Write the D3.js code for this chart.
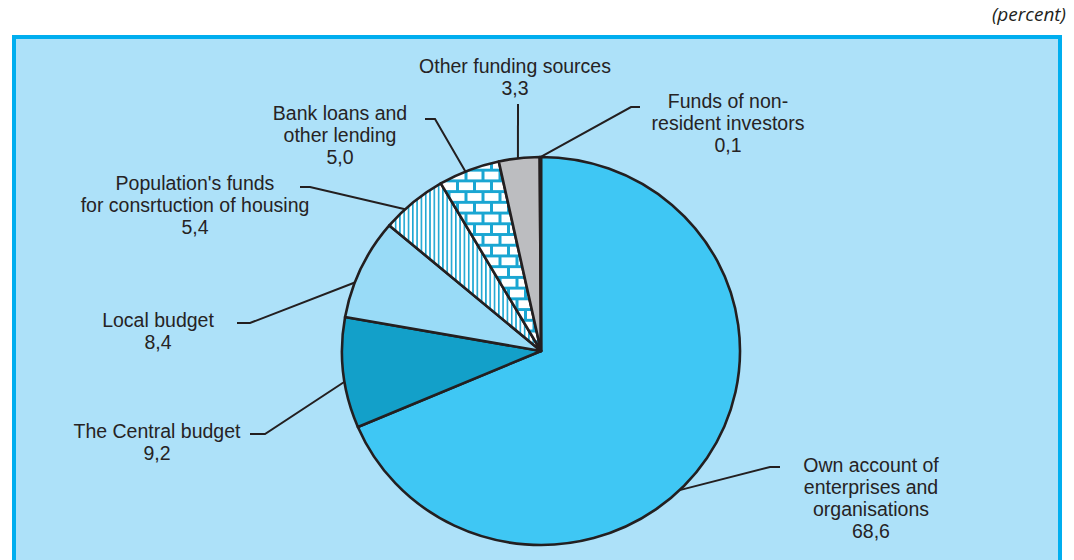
<!DOCTYPE html>
<html>
<head>
<meta charset="utf-8">
<title>Sources of financing</title>
<script src="https://cdn.jsdelivr.net/npm/d3@7"></script>
<style>
body { margin: 0; background: #fff; }
.label { font-family: "Liberation Sans", Arial, sans-serif; font-size: 19.5px; fill: #262324; text-anchor: middle; }
.unit { font-family: "Open Sans", "Liberation Sans", sans-serif; font-style: italic; font-size: 19px; fill: #231f20; text-anchor: end; }
.leader { fill: none; stroke: #231f20; stroke-width: 2; }
</style>
</head>
<body>
<script>
// data (percent)
var sources = ["Own account of enterprises and organisations", "The Central budget", "Local budget",
    "Population's funds for consrtuction of housing", "Bank loans and other lending",
    "Other funding sources", "Funds of non-resident investors"];
var shares = [68.6, 9.2, 8.4, 5.4, 5.0, 3.3, 0.1];
var shareLabels = ["68,6", "9,2", "8,4", "5,4", "5,0", "3,3", "0,1"];
var labelLines = [
    ["Own account of", "enterprises and", "organisations"],
    ["The Central budget"],
    ["Local budget"],
    ["Population's funds", "for consrtuction of housing"],
    ["Bank loans and", "other lending"],
    ["Other funding sources"],
    ["Funds of non-", "resident investors"]
];

var w = 1074, h = 560;
var cx = 541, cy = 351, rx = 199, ry = 194;
var lineH = 22;

var fills = ["#3fc7f4", "#13a0c9", "#99dbf7", "url(#vlines)", "url(#bricks)", "#bcbdc0", "#1b75bb"];

// label layout: text centre / first baseline, leader elbow, where on the slice the leader hits
var layout = [
    { x: 871, y: 472, elbow: [[780, 467], [770, 467]], t: 0.55 },
    { x: 157, y: 438, elbow: [[250, 434], [265, 434]], t: 0.42 },
    { x: 158, y: 327, elbow: [[237, 323], [250, 323]], t: 0.35 },
    { x: 195, y: 190, elbow: [[300, 187], [310, 187]], t: 0.34 },
    { x: 340, y: 120, elbow: [[425, 119], [435, 119]], t: 0.44 },
    { x: 515, y: 73, elbow: [[518, 104]], t: 0.47 },
    { x: 728, y: 108, elbow: [[640, 107], [631, 107]], t: 0.5 }
];

var svg = d3.select("body").append("svg")
    .attr("width", w)
    .attr("height", h);

var defs = svg.append("defs");

// vertical hatching
var vl = defs.append("pattern")
    .attr("id", "vlines")
    .attr("patternUnits", "userSpaceOnUse")
    .attr("width", 4.3).attr("height", 10);
vl.append("rect").attr("width", 4.3).attr("height", 10).attr("fill", "#fff");
vl.append("rect").attr("x", 0).attr("width", 1.6).attr("height", 10).attr("fill", "#1aa6d2");

// bricks
var bw = 17, bh = 11, m = 3;
var br = defs.append("pattern")
    .attr("id", "bricks")
    .attr("patternUnits", "userSpaceOnUse")
    .attr("width", bw).attr("height", bh * 2);
br.append("rect").attr("width", bw).attr("height", bh * 2).attr("fill", "#1aa6d2");
br.append("rect").attr("x", m).attr("y", m).attr("width", bw - m).attr("height", bh - m).attr("fill", "#fff");
br.append("rect").attr("x", bw / 2 + m).attr("y", bh + m).attr("width", bw - m).attr("height", bh - m).attr("fill", "#fff");
br.append("rect").attr("x", -bw / 2 + m).attr("y", bh + m).attr("width", bw - m).attr("height", bh - m).attr("fill", "#fff");

// frame
svg.append("rect")
    .attr("x", 14).attr("y", 37)
    .attr("width", 1046).attr("height", 560)
    .attr("fill", "#ade1f9")
    .attr("stroke", "#00aeef")
    .attr("stroke-width", 4);

svg.append("text")
    .attr("class", "unit")
    .attr("x", 1066).attr("y", 21)
    .text("(percent)");

// pie
var pie = d3.pie().sort(null).value(function(d) { return d; });
var arcs = pie(shares);
var arc = d3.arc().innerRadius(0).outerRadius(rx);

var g = svg.append("g")
    .attr("transform", "translate(" + cx + "," + cy + ") scale(1," + (ry / rx) + ")");

g.selectAll("path")
    .data(arcs)
    .enter()
    .append("path")
    .attr("d", arc)
    .attr("fill", function(d, i) { return fills[i]; })
    .attr("stroke", "#231f20")
    .attr("stroke-width", 2.6)
    .attr("stroke-linejoin", "round")
    .attr("vector-effect", "non-scaling-stroke");

// leaders
function edgePoint(d, t) {
    var a = d.startAngle + t * (d.endAngle - d.startAngle);
    return [cx + rx * Math.sin(a), cy - ry * Math.cos(a)];
}

var line = d3.line();

arcs.forEach(function(d, i) {
    var L = layout[i];
    var pts = L.elbow.concat([edgePoint(d, L.t)]);
    svg.append("path")
        .attr("class", "leader")
        .attr("d", line(pts));

    var txt = svg.append("text")
        .attr("class", "label")
        .attr("x", L.x).attr("y", L.y);
    labelLines[i].concat([shareLabels[i]]).forEach(function(s, k) {
        txt.append("tspan")
            .attr("x", L.x)
            .attr("dy", k === 0 ? 0 : lineH)
            .text(s);
    });
});
</script>
</body>
</html>
